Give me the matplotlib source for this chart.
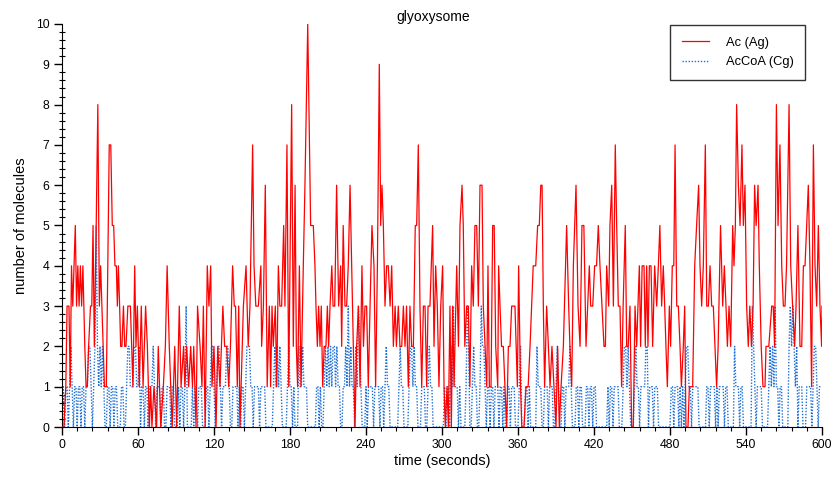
import matplotlib
matplotlib.use("Agg")
import matplotlib.pyplot as plt
from matplotlib.ticker import MultipleLocator

# ---- data: Ac (Ag) as (time, molecules) vertices ----
ac_points = [
    (0, 0), (1.5, 0), (3, 1), (4, 3), (5.5, 3), (6.5, 1), (7.5, 4), (8.5, 3), (9.5, 4), (10.5, 5),
    (11.5, 3), (12.5, 4), (13.5, 3), (14.5, 4), (15.5, 3), (16.5, 4), (18, 2), (19, 1), (20, 1), (21, 2),
    (22.5, 3), (23.5, 3), (24.5, 5), (25.5, 2), (27, 5), (28.3, 8), (29.5, 3), (30.5, 4), (31.5, 3),
    (32.5, 2), (33.5, 1), (35, 1), (37.3, 7), (38.5, 7), (39.7, 5), (40.8, 5), (41.8, 4), (42.9, 4),
    (43.7, 3), (44.5, 4),
    (45.5, 3), (46.3, 2), (47.3, 2), (48.5, 3), (49.5, 2), (50.5, 2), (52, 3), (54, 3), (55, 2), (56, 1),
    (57.4, 4), (58.4, 2), (59.5, 3), (61, 1), (62.6, 3), (64, 1), (66, 3), (67.4, 2), (69, 0), (70, 1),
    (71, 0), (72.6, 1), (74.7, 0), (76, 2), (78, 0), (80, 1), (81.6, 2), (83, 4), (84.7, 2), (87, 0),
    (89, 2), (90.5, 0), (92.6, 3), (94, 1), (96, 2), (97, 1), (98.4, 2), (100, 1), (101.6, 2), (103, 1),
    (104, 2), (105.8, 0), (107, 3), (109, 2), (110.5, 1), (111.6, 3), (113, 0), (114.7, 4), (116, 3),
    (117.4, 4), (118.4, 1), (120, 2), (121.6, 0), (123, 2), (124.7, 1), (127, 3), (128.4, 2), (130, 2),
    (131.6, 1), (133, 2), (134.7, 4), (136, 3), (137, 3), (138.4, 1), (139.5, 3), (140.5, 0),
    (143.2, 3), (145.3, 4), (147, 2), (148.4, 3), (150.5, 7), (151.6, 4), (153, 3), (155, 3), (157, 4),
    (157.6, 2), (159, 3), (160.5, 6), (162, 1), (163.7, 3), (164.7, 1), (165.8, 3), (166.8, 2),
    (168.4, 3), (169.5, 1), (170.8, 4), (172, 3), (173.4, 3), (175, 5), (176, 3), (177.6, 7), (179, 1),
    (180, 4), (181.3, 8), (182.6, 2), (184, 6), (185, 2), (186, 1), (187.4, 4), (188.7, 1), (190.5, 4),
    (191.8, 6), (194, 10), (196.3, 5), (198.4, 5), (199.7, 4), (200.5, 3), (201.6, 2), (202.6, 3),
    (203.7, 2), (204.7, 3), (205.8, 1), (207, 2), (208.4, 2), (209.5, 3), (210.5, 2), (211.6, 3),
    (213, 4), (214, 3), (215.3, 3), (216.8, 6), (218.4, 3), (220, 4), (220.8, 2), (222, 5), (223.4, 3),
    (224.7, 3), (226, 4), (227.4, 6), (228.7, 4), (230, 2), (231.3, 0), (232.6, 2), (234, 3), (235.3, 1),
    (236.8, 4), (238, 2), (239.2, 3), (240.5, 3), (241.8, 1), (243.2, 3), (244.7, 5), (246.3, 4),
    (247.6, 1), (249, 4), (250.5, 9), (251.6, 5), (252.6, 6), (253.7, 5), (255, 3), (256.3, 4),
    (257.6, 4), (259, 3), (260.3, 4), (261.6, 2), (263, 3), (264, 2), (265.5, 3), (266.8, 2), (268.2, 2),
    (269.5, 3), (270.8, 2), (272, 3), (273.4, 1), (274.7, 3), (276, 2), (277.4, 2), (278.9, 5), (280, 5),
    (281.3, 7), (282.6, 3), (284, 1), (285.3, 3), (286.6, 3), (287.9, 1), (289, 3), (290.5, 3),
    (292.6, 5), (293.7, 2), (295, 4), (296.3, 3), (297.6, 1), (299, 3), (300.5, 4), (301.6, 1),
    (302.6, 0), (304, 1), (305, 0), (306.3, 3), (307.4, 0), (308.4, 3), (309.5, 1), (311.6, 4), (313, 2),
    (314.2, 5), (315.8, 6), (316.8, 5), (318, 2), (319.5, 3), (320.8, 3), (322, 1), (323.4, 4),
    (324.7, 3), (326, 5), (327.4, 5), (328.7, 3), (330, 6), (331.6, 6), (332.6, 3), (334, 2), (335.3, 1),
    (336.3, 4), (337.4, 1), (338.7, 1), (340, 5), (341.2, 5), (342.4, 2), (344, 1), (344.7, 4),
    (345.8, 3), (347, 2), (348.4, 2), (349.7, 1), (351, 0), (352.4, 2), (353.7, 2), (355, 3), (357.6, 3),
    (359.5, 1), (360.5, 4), (362, 1), (363, 0), (364.7, 0), (366.3, 1), (368, 1), (369.5, 2), (372, 4),
    (374, 4), (375.5, 5), (376.8, 5), (378, 6), (379, 6), (380, 3), (381, 1), (382.6, 3), (384, 2),
    (385.3, 1), (386.8, 2), (388.4, 1), (390, 0), (391.3, 2), (392.6, 0), (394, 1), (395.8, 2),
    (398.4, 5), (400, 3), (401, 2), (402.4, 1), (403.7, 4), (405.8, 6), (407.4, 3), (409, 2), (410.5, 5),
    (412, 5), (413.7, 2), (415, 3), (416.3, 4), (417.4, 3), (419, 3), (420.5, 4), (422, 4), (423.4, 5),
    (424.7, 4), (426.3, 3), (427.9, 2), (429, 2), (430, 4), (431.6, 3), (432.6, 5), (434, 6), (435.3, 3),
    (436.8, 7), (437.9, 5), (439.2, 3), (440.5, 3), (441.8, 1), (443, 3), (444.7, 5), (445.8, 2),
    (447, 2), (448.4, 3), (449.7, 0), (451, 0), (452.4, 3), (453.7, 2), (454.7, 3), (455.8, 4),
    (456.8, 2), (458, 4), (459.5, 4), (460.5, 2), (461.6, 4), (462.6, 2), (463.7, 4), (465, 4),
    (466.3, 2), (467.9, 4), (469.5, 3), (470.8, 4), (472, 5), (473.4, 3), (474.7, 4), (475.8, 3),
    (476.8, 2), (477.9, 1), (479.5, 3), (480.5, 2), (481.8, 4), (483, 4), (484, 7), (485.3, 3),
    (486.6, 3), (487.9, 2), (489, 1), (490.5, 2), (491.6, 3), (492.6, 0), (494.2, 0), (495.3, 1),
    (496.6, 1), (497.9, 1), (499.5, 4), (501, 5), (502.6, 6), (503.7, 4), (505, 3), (506.3, 4),
    (507.9, 7), (509, 3), (510.3, 3), (511.6, 4), (512.9, 3), (514.2, 3), (515.5, 2), (516.8, 1),
    (518, 2), (519.9, 5), (521.6, 3), (522.9, 4), (524.2, 3), (525.3, 2), (526.6, 3), (527.9, 2),
    (529.5, 5), (530.5, 4), (531.6, 5), (532.6, 8), (534, 6), (535.3, 5), (536.8, 7), (537.9, 5),
    (539.2, 6), (540.5, 3), (541.8, 2), (543, 3), (544.3, 2), (545.6, 3), (546.8, 6), (548, 5),
    (549.5, 6), (550.5, 4), (552, 2), (553.4, 1), (555, 1), (555.8, 2), (558, 2), (560.3, 3),
    (561.5, 3), (562.6, 2), (564, 8), (565.3, 5), (566.8, 7), (568.2, 4), (569.5, 3), (570.8, 3),
    (572, 4), (574, 8), (575.3, 4), (576.8, 3), (578.4, 2), (579.5, 3), (581, 5), (582.6, 2), (584, 2),
    (585.3, 4), (586.6, 4), (587.9, 5), (589.2, 6), (590.5, 4), (591.8, 1), (593.2, 7), (594.5, 4),
    (595.8, 3), (597.1, 5), (598.4, 3), (599.7, 2), (600, 3),
]
ac_t = [p[0] for p in ac_points]
ac_v = [p[1] for p in ac_points]

# AcCoA (Cg), one value per second, written in blocks of ten seconds
accoa_blocks = [
    "0101101210", "1101101101", "1221012521", "2121001101", "1011000110",
    "0122111221", "1201101101", "1121011101", "1001110110", "0010110130",
    "0001011011", "1000110122", "1012210111", "2210011110", "1011012221",
    "1011110111", "1000000121", "2121000012", "1101000211", "2111000000",
    "0110100121", "2121221211", "0011213121", "1021321000", "1011110111",
    "1011012110", "0000001211", "0000122121", "1000111001", "2110000000",
    "0010110213", "1110100001", "3200121100", "1322101101", "1011101101",
    "0011011100", "0120001101", "0000021110", "0111011100", "1210011011",
    "1210001101", "1000110110", "1100000000", "0101101111", "0001221210",
    "0012110111", "1220111011", "1000000000", "0110111010", "1012211011",
    "1110000001", "1011110101", "1110110000", "0211101100", "0000032101",
    "1110000012", "1213110110", "0000232321", "2011100011", "1101221011",
    "1"]
accoa_v = [int(c) for block in accoa_blocks for c in block]
accoa_t = list(range(len(accoa_v)))

series_labels = ["Ac (Ag)", "AcCoA (Cg)"]
title = "glyoxysome"
xlabel = "time (seconds)"
ylabel = "number of molecules"

# ---- plot ----
plt.rcParams['font.family'] = ['Liberation Sans', 'DejaVu Sans']
fig = plt.figure(figsize=(8.35, 4.79), dpi=100)
ax = fig.add_axes([62/835, 1-427/479, 760/835, 403/479])

ax.plot(ac_t, ac_v, color='#ff0000', lw=0.9, label=series_labels[0], zorder=3)
ax.plot(accoa_t, accoa_v, color='#1f6fd6', lw=1.0, ls=(0, (1, 1.2)), label=series_labels[1], zorder=2)

ax.set_xlim(0, 600)
ax.set_ylim(0, 10)
ax.xaxis.set_major_locator(MultipleLocator(60))
ax.xaxis.set_minor_locator(MultipleLocator(12))
ax.yaxis.set_major_locator(MultipleLocator(1))
ax.yaxis.set_minor_locator(MultipleLocator(0.2))
for s in ['top', 'right']:
    ax.spines[s].set_visible(False)
ax.tick_params(axis='both', which='major', direction='out', length=6, width=1, labelsize=8.8, pad=3)
ax.tick_params(axis='x', which='minor', direction='out', length=3, width=0.8)
ax.tick_params(axis='y', which='minor', direction='inout', length=4, width=0.8)
ax.set_xlabel(xlabel, fontsize=10.5, labelpad=2)
ax.set_ylabel(ylabel, fontsize=10.5, labelpad=6)
fig.text(433/835, 1-17/479, title, ha='center', va='center', fontsize=10)

leg = ax.legend(loc='upper right', bbox_to_anchor=(805/835, 1-25/479), bbox_transform=fig.transFigure,
                borderaxespad=0, fancybox=False, frameon=True, fontsize=9.3, handlelength=2.1,
                borderpad=0.9, labelspacing=0.6, handletextpad=1.3)
leg.get_frame().set_edgecolor('black')
leg.get_frame().set_linewidth(1.0)

fig.savefig("out.png", dpi=100)
